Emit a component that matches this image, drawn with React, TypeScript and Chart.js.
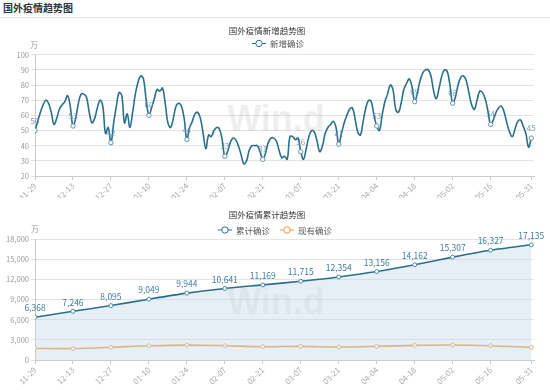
import React, { useEffect, useRef } from 'react';
import { Chart, registerables } from 'chart.js';

Chart.register(...registerables);

const pageTitle = '国外疫情趋势图';
const chart1Title = '国外疫情新增趋势图';
const chart2Title = '国外疫情累计趋势图';
const seriesNew = '新增确诊';
const seriesTotal = '累计确诊';
const seriesActive = '现有确诊';
const unitLabel = '万';
const watermark = 'Win.d';

const tickLabels = ['11-29', '12-13', '12-27', '01-10', '01-24', '02-07', '02-21', '03-07', '03-21', '04-04', '04-18', '05-02', '05-16', '05-31'];
const tickDays = [0, 14, 28, 42, 56, 70, 84, 98, 112, 126, 140, 154, 168, 183];

// daily new confirmed (万), 11-29 .. 05-31
const newCases = [
  50, 56, 62, 67, 70, 68, 62,
  54, 58, 64, 67, 69, 73, 66,
  53, 58, 68, 74, 74, 72, 62,
  55, 58, 65, 70, 66, 48, 52,
  42, 55, 66, 75, 73, 55, 61,
  52, 62, 74, 82, 86, 84, 70,
  60, 65, 71, 77, 76, 78, 68,
  55, 52, 58, 66, 68, 66, 58,
  44, 52, 56, 61, 62, 58, 48,
  38, 47, 46, 50, 52, 51, 44,
  33, 36, 42, 45, 44, 40, 34,
  28, 30, 37, 40, 40, 40, 36,
  31, 35, 42, 45, 45, 43, 37,
  32, 33, 31, 46, 46, 44, 45,
  36, 31, 38, 46, 50, 49, 43,
  36, 40, 48, 52, 54, 56, 52,
  41, 48, 55, 60, 64, 65, 58,
  49, 47, 56, 65, 70, 69, 60,
  53, 50, 60, 69, 74, 80, 77,
  64, 62, 68, 77, 81, 84, 79,
  69, 75, 83, 88, 90, 90, 86,
  76, 71, 78, 86, 90, 89, 80,
  68, 72, 80, 85, 86, 83, 75,
  67, 64, 70, 76, 75, 71, 63,
  54, 57, 62, 65, 66, 62, 55,
  49, 46, 51, 56, 57, 53, 48,
  39, 45,
];

// cumulative and active confirmed (万) at tick dates
const cumulative = [6368, 7246, 8095, 9049, 9944, 10641, 11169, 11715, 12354, 13156, 14162, 15307, 16327, 17135];
const active = [1720, 1700, 1880, 2120, 2220, 2130, 1980, 2030, 1930, 2030, 2180, 2230, 2130, 1880];

const FONT = '"Noto Sans CJK SC", "Noto Sans", sans-serif';

const fmt = (v: number) => v.toLocaleString('en-US');

const watermarkPlugin = {
  id: 'wm',
  beforeDatasetsDraw(chart: any, _a: any, opts: any) {
    const { ctx } = chart;
    ctx.save();
    ctx.font = 'bold 36px "Liberation Sans", Arial, sans-serif';
    ctx.fillStyle = 'rgba(0,0,0,0.065)';
    ctx.textAlign = 'center';
    ctx.textBaseline = 'middle';
    ctx.fillText(watermark, opts.x, opts.y);
    ctx.restore();
  },
};

const legendPlugin = {
  id: 'lg',
  afterDraw(chart: any, _a: any, opts: any) {
    const { ctx } = chart;
    ctx.save();
    ctx.font = `8.5px ${FONT}`;
    ctx.textBaseline = 'middle';
    const items = chart.data.datasets.map((d: any) => ({ label: d.label, color: d.borderColor, w: 14 + 4 + ctx.measureText(d.label).width }));
    const gap = 10;
    const total = items.reduce((s: number, it: any) => s + it.w, 0) + gap * (items.length - 1);
    let x = opts.cx - total / 2;
    const y = opts.y;
    for (const it of items) {
      ctx.strokeStyle = it.color;
      ctx.lineWidth = 1;
      ctx.beginPath();
      ctx.moveTo(x, y);
      ctx.lineTo(x + 14, y);
      ctx.stroke();
      ctx.beginPath();
      ctx.arc(x + 7, y, 3.2, 0, Math.PI * 2);
      ctx.fillStyle = '#fff';
      ctx.fill();
      ctx.stroke();
      ctx.fillStyle = '#555';
      ctx.textAlign = 'left';
      ctx.fillText(it.label, x + 18, y + 0.5);
      x += it.w + gap;
    }
    // unit label
    ctx.font = `8px ${FONT}`;
    ctx.fillStyle = '#999';
    ctx.textAlign = 'center';
    ctx.fillText(unitLabel, opts.ux, opts.uy);
    ctx.restore();
  },
};

const dataLabelPlugin = {
  id: 'dl',
  afterDatasetsDraw(chart: any) {
    const { ctx } = chart;
    chart.data.datasets.forEach((ds: any, di: number) => {
      if (!ds.labelStyle) return;
      const meta = chart.getDatasetMeta(di);
      ctx.save();
      ctx.font = `${ds.labelStyle.size}px ${FONT}`;
      ctx.fillStyle = ds.labelStyle.color;
      ctx.textAlign = 'center';
      ctx.textBaseline = 'middle';
      meta.data.forEach((pt: any, i: number) => {
        const raw = ds.data[i];
        if (ds.labelStyle.only && !ds.labelStyle.only(raw.x)) return;
        ctx.fillText(fmt(raw.y), pt.x, pt.y - ds.labelStyle.dy);
      });
      ctx.restore();
    });
  },
};

function xScale(height: number) {
  return {
    type: 'linear',
    min: 0,
    max: 184,
    afterBuildTicks: (s: any) => {
      s.ticks = tickDays.map((v) => ({ value: v }));
    },
    afterFit: (s: any) => {
      s.height = height;
    },
    ticks: {
      autoSkip: false,
      maxRotation: 45,
      minRotation: 45,
      padding: 1,
      color: '#aaa',
      font: { size: 8, family: FONT },
      callback: (v: number) => {
        const k = tickDays.indexOf(v);
        return k >= 0 ? tickLabels[k] : '';
      },
    },
    grid: { drawOnChartArea: false, drawTicks: true, tickLength: 4, color: '#ccc' },
    border: { color: '#ccc' },
  };
}

function yScale(min: number, max: number, step: number) {
  return {
    min,
    max,
    afterFit: (s: any) => {
      s.width = 35;
    },
    ticks: {
      stepSize: step,
      padding: 2,
      color: '#999',
      font: { size: 7.5, family: FONT },
      callback: (v: number) => fmt(v),
    },
    grid: { color: '#e4e4e4', tickLength: 4, drawTicks: true },
    border: { color: '#ccc' },
  };
}

export default function App() {
  const c1 = useRef<HTMLCanvasElement>(null);
  const c2 = useRef<HTMLCanvasElement>(null);

  useEffect(() => {
    document.body.style.margin = '0';
    const blue = '#2a6f8e';
    const chart1 = new Chart(c1.current as HTMLCanvasElement, {
      type: 'line',
      data: {
        datasets: [
          {
            label: seriesNew,
            data: newCases.map((v, i) => ({ x: i, y: v })),
            borderColor: blue,
            borderWidth: 1.6,
            tension: 0.4,
            pointRadius: newCases.map((_, i) => (tickDays.includes(i) ? 2.2 : 0)),
            pointBackgroundColor: '#fff',
            pointBorderColor: '#5f93ad',
            pointBorderWidth: 1,
            fill: false,
            labelStyle: { size: 8, color: 'rgba(90,140,170,0.85)', dy: 10, only: (x: number) => tickDays.includes(x) },
          } as any,
        ],
      },
      options: {
        responsive: false,
        animation: false,
        layout: { padding: { left: 0, right: 16, top: 0, bottom: 0 } },
        plugins: {
          legend: { display: false },
          tooltip: { enabled: false },
          title: {
            display: true,
            text: chart1Title,
            color: '#333',
            font: { size: 8.5, family: FONT, weight: 'normal', lineHeight: 1.2 },
            padding: { top: 7.9, bottom: 18.6 },
          },
          wm: { x: 276, y: 103 },
          lg: { cx: 278, y: 25.5, ux: 34, uy: 26.5 },
        } as any,
        scales: {
          x: xScale(22) as any,
          y: yScale(20, 100, 10) as any,
        },
      },
      plugins: [watermarkPlugin, legendPlugin, dataLabelPlugin],
    });

    const chart2 = new Chart(c2.current as HTMLCanvasElement, {
      type: 'line',
      data: {
        datasets: [
          {
            label: seriesTotal,
            data: cumulative.map((v, i) => ({ x: tickDays[i], y: v })),
            borderColor: '#2b6e8c',
            backgroundColor: 'rgba(196,216,234,0.42)',
            borderWidth: 1.6,
            tension: 0.25,
            pointRadius: 2,
            pointBackgroundColor: '#fff',
            pointBorderColor: '#4f8aa8',
            pointBorderWidth: 1,
            fill: 'origin',
            labelStyle: { size: 8.5, color: '#3e7c9d', dy: 9 },
          } as any,
          {
            label: seriesActive,
            data: active.map((v, i) => ({ x: tickDays[i], y: v })),
            borderColor: '#ee9a3e',
            borderWidth: 1.6,
            tension: 0.3,
            pointRadius: 2,
            pointBackgroundColor: '#fff',
            pointBorderColor: '#efab62',
            pointBorderWidth: 1,
            fill: false,
          } as any,
        ],
      },
      options: {
        responsive: false,
        animation: false,
        layout: { padding: { left: 0, right: 16, top: 0, bottom: 0 } },
        plugins: {
          legend: { display: false },
          tooltip: { enabled: false },
          title: {
            display: true,
            text: chart2Title,
            color: '#333',
            font: { size: 8.5, family: FONT, weight: 'normal', lineHeight: 1.2 },
            padding: { top: 11.9, bottom: 18.9 },
          },
          wm: { x: 276, y: 106 },
          lg: { cx: 275, y: 32, ux: 35, uy: 31 },
        } as any,
        scales: {
          x: xScale(30) as any,
          y: yScale(0, 18000, 3000) as any,
        },
      },
      plugins: [watermarkPlugin, legendPlugin, dataLabelPlugin],
    });

    return () => {
      chart1.destroy();
      chart2.destroy();
    };
  }, []);

  return (
    <div style={{ position: 'relative', width: 550, height: 390, background: '#fff', fontFamily: FONT }}>
      <div style={{ position: 'absolute', left: 3, top: 1, fontSize: 10, lineHeight: '14px', fontWeight: 'bold', color: '#333' }}>{pageTitle}</div>
      <div style={{ position: 'absolute', left: 0, top: 17, width: 550, height: 1, background: '#e2e2e2' }} />
      <canvas ref={c1} width={550} height={180} style={{ position: 'absolute', left: 0, top: 18 }} />
      <canvas ref={c2} width={550} height={192} style={{ position: 'absolute', left: 0, top: 198 }} />
    </div>
  );
}
